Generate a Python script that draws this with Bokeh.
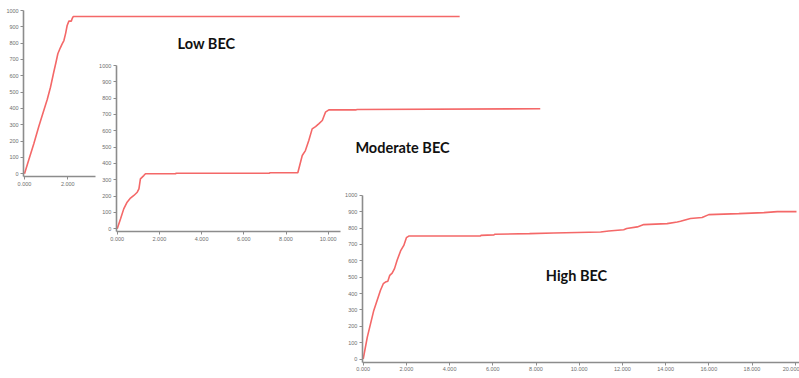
from bokeh.plotting import figure
from bokeh.models import Range1d, LinearAxis, SingleIntervalTicker, NumeralTickFormatter, Label
from bokeh.embed import file_html
from bokeh.resources import INLINE

# ---- data (x in thousands, y cumulative count) ----
low_x = [0, 0.22, 0.43, 0.66, 0.89, 1.05, 1.2, 1.35, 1.45, 1.54, 1.65, 1.74, 1.82, 1.9, 1.97, 2.05, 2.16, 2.2, 2.25, 20.1]
low_y = [0, 95, 184, 290, 388, 455, 530, 622, 680, 735, 770, 796, 816, 860, 908, 935, 935, 950, 963, 963]

mod_x = [0, 0.16, 0.31, 0.47, 0.63, 0.79, 0.95, 1.03, 1.1, 1.26, 1.34, 2.76, 2.8, 7.2, 7.25, 8.56, 8.77, 8.92, 9.08, 9.24, 9.4,
         9.55, 9.72, 9.87, 10.03, 11.3, 11.37, 20.05]
mod_y = [0, 61, 122, 163, 188, 204, 224, 245, 306, 326, 337, 337, 340, 340, 343, 343, 449, 479, 541, 612, 626,
         643, 663, 714, 728, 728, 731, 735]

high_x = [0, 0.19, 0.49, 0.8, 0.93, 1.03, 1.14, 1.23, 1.34, 1.45, 1.57, 1.73, 1.88, 2.0, 2.11, 5.43, 5.45, 6.05, 6.1, 7.7,
          8.82, 10.99, 11.37, 12.06, 12.2, 12.69, 12.99, 14.07, 14.54, 14.69, 15.15, 15.69, 16.0, 17.39, 18.55, 19.17, 20.06]
high_y = [0, 134, 297, 420, 460, 470, 475, 511, 525, 552, 603, 660, 694, 741, 751, 751, 755, 758, 762, 766,
          770, 776, 782, 790, 797, 807, 821, 827, 837, 841, 858, 864, 882, 888, 894, 900, 900]

titles = ["Low BEC", "Moderate BEC", "High BEC"]
y_tick_step = 100
x_tick_step = 2
y_top = 1000

# ---- layout (canvas pixels) ----
W, H = 799, 378
charts = [
    dict(name="low", xs=low_x, ys=low_y, ox=24, oy=173.3, sx=21.65, sy=0.1633, xmax=3.3, lab=(206, 43)),
    dict(name="mod", xs=mod_x, ys=mod_y, ox=116.7, oy=228.3, sx=21.1, sy=0.1633, xmax=10.6, lab=(402, 146.5)),
    dict(name="high", xs=high_x, ys=high_y, ox=362.7, oy=358.5, sx=21.6, sy=0.1637, xmax=20.5, lab=(576, 275)),
]

def xr(c):
    return Range1d(-c["ox"] / c["sx"], (W - c["ox"]) / c["sx"])

def yr(c):
    return Range1d(-(H - c["oy"]) / c["sy"], c["oy"] / c["sy"])

hc = charts[2]
p = figure(width=W, height=H, output_backend="svg", toolbar_location=None,
           x_range=xr(hc), y_range=yr(hc), x_axis_type=None, y_axis_type=None,
           min_border=0, outline_line_color=None)
p.grid.visible = False
p.background_fill_color = "white"
p.border_fill_color = "white"

line_color = "#f46868"
axis_color = "#8c8c8c"
label_color = "#6e6e6e"

for c in charts:
    if c["name"] == "high":
        xn, yn = "default", "default"
    else:
        xn, yn = c["name"] + "_x", c["name"] + "_y"
        p.extra_x_ranges[xn] = xr(c)
        p.extra_y_ranges[yn] = yr(c)
    p.line(c["xs"], c["ys"], line_color=line_color, line_width=1.6, x_range_name=xn, y_range_name=yn)

    off = -3.0 / c["sy"]
    xa = LinearAxis(x_range_name=xn, y_range_name=yn, fixed_location=off,
                    bounds=(-0.05, c["xmax"]), ticker=SingleIntervalTicker(interval=x_tick_step),
                    formatter=NumeralTickFormatter(format="0.000"))
    ya = LinearAxis(x_range_name=xn, y_range_name=yn, fixed_location=-0.04,
                    bounds=(off, y_top), ticker=SingleIntervalTicker(interval=y_tick_step))
    for a in (xa, ya):
        a.axis_line_color = axis_color
        a.axis_line_width = 1.6
        a.major_tick_line_color = axis_color
        a.major_tick_line_width = 1
        a.major_tick_out = 3
        a.major_tick_in = 0
        a.minor_tick_line_color = None
        a.major_label_text_font = "Liberation Sans"
        a.major_label_text_font_size = "5.5px"
        a.major_label_text_color = label_color
        a.major_label_standoff = 1
    p.add_layout(xa, "below")
    p.add_layout(ya, "left")

for c, t in zip(charts, titles):
    lx, ly = c["lab"]
    p.add_layout(Label(x=lx, y=H - ly, x_units="screen", y_units="screen", text=t,
                       text_font="Lato", text_font_style="bold", text_font_size="14.5px",
                       text_color="#111111", text_align="center", text_baseline="middle"))

open("out.html", "w").write(file_html(p, INLINE))
